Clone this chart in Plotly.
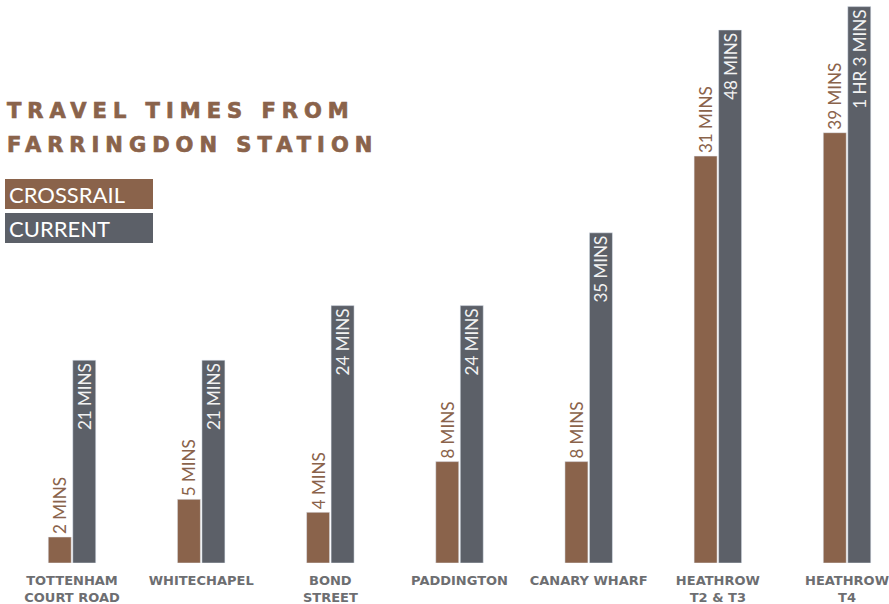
import plotly.graph_objects as go

# ---- data ----
stations = ["TOTTENHAM<br>COURT ROAD", "WHITECHAPEL", "BOND<br>STREET", "PADDINGTON",
            "CANARY WHARF", "HEATHROW<br>T2 & T3", "HEATHROW<br>T4"]
crossrail_labels = ["2 MINS", "5 MINS", "4 MINS", "8 MINS", "8 MINS", "31 MINS", "39 MINS"]
current_labels = ["21 MINS", "21 MINS", "24 MINS", "24 MINS", "35 MINS", "48 MINS", "1 HR 3 MINS"]
# drawn bar lengths (the infographic is not to scale)
crossrail_bar = [2.0, 4.9, 3.9, 7.8, 7.8, 31.3, 33.1]
current_bar = [15.6, 15.6, 19.8, 19.8, 25.4, 41.0, 42.8]

BROWN = "#8a634b"
GREY = "#5c6068"
LABEL_GREY = "#6d6e71"
W, H = 889, 604
B = 41
PH = H - B


def px_x(x):
    return x / W


def px_y(y):
    return (PH - y) / PH


fig = go.Figure()
fig.add_trace(go.Bar(
    x=stations, y=crossrail_bar, name="CROSSRAIL", marker_color=BROWN,
    text=crossrail_labels, textposition="outside", textangle=-90,
    outsidetextfont=dict(family="Lato", size=17, color=BROWN),
    constraintext="none", cliponaxis=False, hoverinfo="skip"))
fig.add_trace(go.Bar(
    x=stations, y=current_bar, name="CURRENT", marker_color=GREY,
    text=current_labels, textposition="inside", textangle=-90,
    insidetextanchor="end",
    insidetextfont=dict(family="Lato", size=17, color="#f2f2f2"),
    constraintext="none", cliponaxis=False, hoverinfo="skip"))

fig.update_layout(
    width=W, height=H,
    margin=dict(l=0, r=0, t=0, b=B, pad=0, autoexpand=False),
    paper_bgcolor="white", plot_bgcolor="white",
    barmode="group", bargap=0.6207, bargroupgap=0.061,
    showlegend=False,
    xaxis=dict(range=[-0.5574, 6.325], showgrid=False, zeroline=False, showline=False,
               ticks="", ticklabelstandoff=8, automargin=False,
               tickfont=dict(family="DejaVu Sans", size=13, color=LABEL_GREY, weight="bold"),
               fixedrange=True),
    yaxis=dict(range=[0, PH / 13], visible=False, showgrid=False, zeroline=False,
               automargin=False, fixedrange=True),
)

span_style = f"letter-spacing:6.0px;font-weight:bold;stroke:{BROWN};stroke-width:0.7px"
title_lines = ["TRAVEL TIMES FROM", "FARRINGDON STATION"]
for line, yc in zip(title_lines, [111, 145]):
    fig.add_annotation(
        text=f'<span style="{span_style}">{line}</span>', xref="paper", yref="paper",
        x=px_x(5), y=px_y(yc), xanchor="left", yanchor="middle", showarrow=False,
        font=dict(family="DejaVu Sans", size=21, color=BROWN, weight="bold"), align="left")

legend_items = [("CROSSRAIL", BROWN, 179, 209), ("CURRENT", GREY, 213, 243)]
for name, col, y0, y1 in legend_items:
    fig.add_shape(type="rect", xref="paper", yref="paper",
                  x0=px_x(5), x1=px_x(153), y0=px_y(y1), y1=px_y(y0),
                  fillcolor=col, line=dict(width=0), layer="above")
    fig.add_annotation(
        text=name, xref="paper", yref="paper", x=px_x(7), y=px_y((y0 + y1) / 2),
        xanchor="left", yanchor="middle", showarrow=False,
        font=dict(family="Lato", size=22, color="white"), align="left")

fig.write_html("out.html")
